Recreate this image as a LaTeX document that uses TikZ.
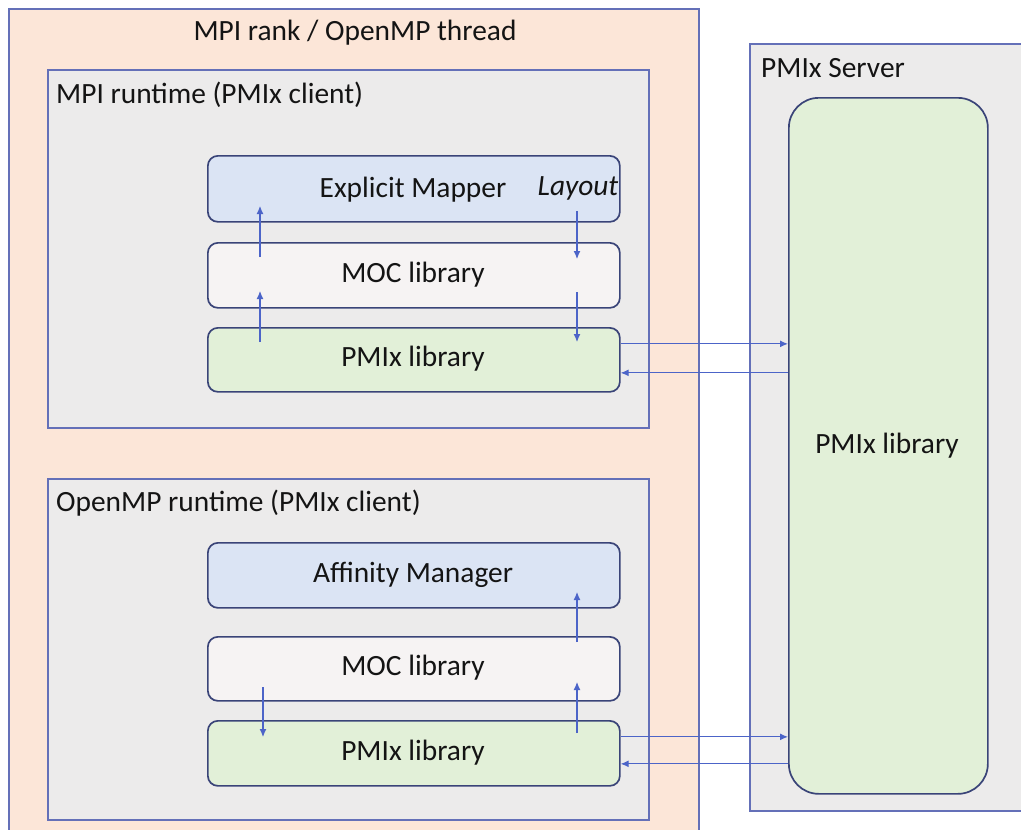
\documentclass[tikz,border=0pt]{standalone}
\usepackage{fontspec}
\setmainfont{Carlito}
\usetikzlibrary{arrows.meta}
\definecolor{orangefill}{HTML}{FCE6D8}
\definecolor{greyfill}{HTML}{ECEBEB}
\definecolor{bluefill}{HTML}{DBE4F4}
\definecolor{mocfill}{HTML}{F6F3F3}
\definecolor{greenfill}{HTML}{E2F0D8}
\definecolor{frameline}{HTML}{6470B8}
\definecolor{boxline}{HTML}{3A4478}
\definecolor{arrowcol}{HTML}{4C64C8}
\definecolor{txt}{HTML}{141414}
\tikzset{
  container/.style={draw=frameline, line width=1.8pt, anchor=north west, inner sep=0pt},
  layerbox/.style={draw=boxline, line width=1.7pt, rounded corners=10pt, anchor=north west, inner sep=0pt, minimum width=412pt},
  lbl/.style={font=\fontsize{29.4}{34}\selectfont, text=txt, inner sep=0pt},
  arr/.style={draw=arrowcol, line width=1.1pt, -{Latex[length=8pt,width=7pt]}},
}
\begin{document}
\begin{tikzpicture}[x=1pt,y=-1pt]
\useasboundingbox (0,0) rectangle (1021,830);
\clip (0,0) rectangle (1021,830);
\fill[white] (0,0) rectangle (1021,830);
% containers
\node[container, fill=orangefill, minimum width=690pt, minimum height=845pt] (outer) at (8,8) {};
\node[container, fill=greyfill, minimum width=601pt, minimum height=358pt] (mpi) at (47,69) {};
\node[container, fill=greyfill, minimum width=601pt, minimum height=341pt] (omp) at (47,478) {};
\node[container, fill=greyfill, minimum width=300pt, minimum height=767pt] (server) at (749,43) {};
\node[draw=boxline, line width=1.7pt, rounded corners=30pt, fill=greenfill, anchor=north west, inner sep=0pt, minimum width=199pt, minimum height=696pt] (slib) at (788,97) {};
% layer boxes
\node[layerbox, fill=bluefill, minimum height=66pt] (em) at (207,155) {};
\node[layerbox, fill=mocfill, minimum height=65pt] (moc1) at (207,242) {};
\node[layerbox, fill=greenfill, minimum height=64pt] (pm1) at (207,327) {};
\node[layerbox, fill=bluefill, minimum height=65pt] (am) at (207,542) {};
\node[layerbox, fill=mocfill, minimum height=64pt] (moc2) at (207,636) {};
\node[layerbox, fill=greenfill, minimum height=65pt] (pm2) at (207,720) {};
% labels
\node[lbl] (t-outer) at (355,33) {MPI rank / OpenMP thread};
\node[lbl, anchor=west] (t-mpi) at (56,95) {MPI runtime (PMIx client)};
\node[lbl, anchor=west] (t-omp) at (56,503) {OpenMP runtime (PMIx client)};
\node[lbl, anchor=west] (t-server) at (761,68) {PMIx Server};
\node[lbl] (t-em) at (413,190) {Explicit Mapper};
\node[lbl] (t-layout) at (578,188) {\itshape Layout};
\node[lbl] (t-moc1) at (413,275) {MOC library};
\node[lbl] (t-pm1) at (413,359) {PMIx library};
\node[lbl] (t-am) at (413,575) {Affinity Manager};
\node[lbl] (t-moc2) at (413,668) {MOC library};
\node[lbl] (t-pm2) at (413,753) {PMIx library};
\node[lbl] (t-slib) at (887,446) {PMIx library};
% vertical arrows (MPI)
\coordinate (u1s) at (260,257); \coordinate (u1e) at (260,206);
\coordinate (u2s) at (260,342); \coordinate (u2e) at (260,291);
\coordinate (d1s) at (577,211); \coordinate (d1e) at (577,259);
\coordinate (d2s) at (577,292); \coordinate (d2e) at (577,342);
\draw[arr] (u1s) -- (u1e);
\draw[arr] (u2s) -- (u2e);
\draw[arr] (d1s) -- (d1e);
\draw[arr] (d2s) -- (d2e);
% vertical arrows (OpenMP)
\coordinate (v1s) at (577,642); \coordinate (v1e) at (577,592);
\coordinate (v2s) at (577,733); \coordinate (v2e) at (577,682);
\coordinate (w1s) at (263,687); \coordinate (w1e) at (263,737);
\draw[arr] (v1s) -- (v1e);
\draw[arr] (v2s) -- (v2e);
\draw[arr] (w1s) -- (w1e);
% horizontal arrows
\coordinate (h1) at ([yshift=16pt]pm1.east);
\coordinate (h2) at ([yshift=-13pt]pm1.east);
\coordinate (h3) at ([yshift=16.5pt]pm2.east);
\coordinate (h4) at ([yshift=-10.5pt]pm2.east);
\draw[arr] (h1) -- (h1 -| slib.west);
\draw[arr] (h2 -| slib.west) -- (h2);
\draw[arr] (h3) -- (h3 -| slib.west);
\draw[arr] (h4 -| slib.west) -- (h4);
\end{tikzpicture}
\end{document}
